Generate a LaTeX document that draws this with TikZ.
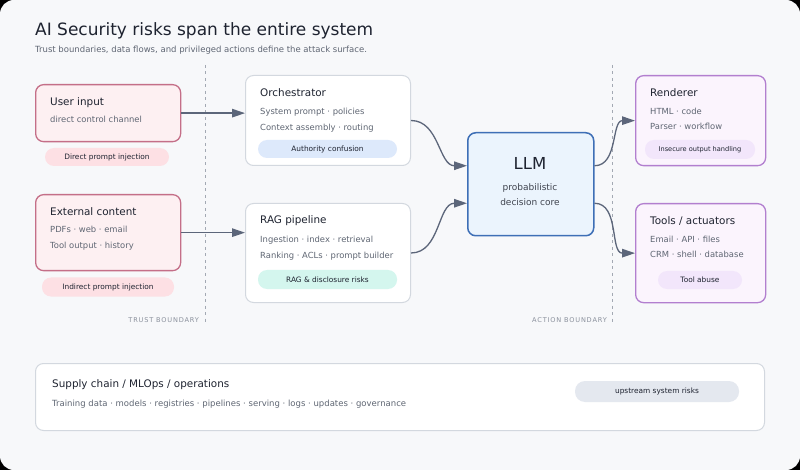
\documentclass[tikz,border=0pt]{standalone}
\usepackage{fontspec}
\setmainfont{DejaVu Sans}
\usepackage{xcolor}
\usetikzlibrary{arrows.meta}

\definecolor{bgcol}{HTML}{F7F8FA}
\definecolor{ink}{HTML}{1E2330}
\definecolor{soft}{HTML}{5F6673}
\definecolor{faint}{HTML}{8A909C}
\definecolor{dashcol}{HTML}{A3A9B3}
\definecolor{wire}{HTML}{5C667A}
\definecolor{rosefill}{HTML}{FDF0F2}
\definecolor{roseline}{HTML}{C46F88}
\definecolor{rosepill}{HTML}{FDE0E4}
\definecolor{greyline}{HTML}{D3D8DF}
\definecolor{bluepill}{HTML}{DDE9FB}
\definecolor{mintpill}{HTML}{D4F6EE}
\definecolor{llmfill}{HTML}{EBF4FD}
\definecolor{llmline}{HTML}{3E6FB6}
\definecolor{lavfill}{HTML}{FBF4FD}
\definecolor{lavline}{HTML}{B27FCF}
\definecolor{lavpill}{HTML}{F2E6FB}
\definecolor{slatepill}{HTML}{E4E8EF}

\begin{document}
\begin{tikzpicture}[x=1pt, y=-1pt,
  box/.style={rounded corners=8pt, anchor=north west, inner sep=0pt},
  inbox/.style={box, draw=roseline, fill=rosefill, line width=1.3pt},
  midbox/.style={box, draw=greyline, fill=white, line width=1pt},
  outbox/.style={box, draw=lavline, fill=lavfill, line width=1.3pt},
  pill/.style={rounded corners=9pt, inner sep=0pt, text=ink, font=\fontsize{7.4}{9}\selectfont},
  head/.style={anchor=base west, inner sep=0pt, text=ink, font=\fontsize{10.4}{12}\selectfont},
  line/.style={anchor=base west, inner sep=0pt, text=soft, font=\fontsize{8.4}{10}\selectfont},
  lbl/.style={anchor=base east, inner sep=0pt, text=faint, font=\fontsize{6.6}{8}\selectfont\addfontfeature{LetterSpace=12}},
  bound/.style={draw=dashcol, line width=0.9pt, dash pattern=on 3pt off 3.5pt},
  arr/.style={draw=wire, line width=1.3pt, -{Triangle[length=13pt,width=8.5pt]}}
]
\useasboundingbox (0,0) rectangle (800,470);
\fill[black] (0,0) rectangle (800,470);
\fill[bgcol, rounded corners=14pt] (0,0) rectangle (800,470);

\node[anchor=base west, inner sep=0pt, text=ink, font=\fontsize{17}{20}\selectfont] (title) at (35,36) {AI Security risks span the entire system};
\node[anchor=base west, inner sep=0pt, text=soft, font=\fontsize{8.5}{10}\selectfont] (subtitle) at (35,53) {Trust boundaries, data flows, and privileged actions define the attack surface.};

% boundaries
\coordinate (tb-top) at (205,65);
\coordinate (tb-bot) at (205,325);
\coordinate (ab-top) at (612,65);
\coordinate (ab-bot) at (612,325);
\draw[bound] (tb-top) -- (tb-bot);
\draw[bound] (ab-top) -- (ab-bot);
\node[lbl] (tb-l) at (199,322) {TRUST BOUNDARY};
\node[lbl] (ab-l) at (607,322) {ACTION BOUNDARY};

% inputs
\node[inbox, minimum width=145pt, minimum height=57pt] (user) at (35,84) {};
\node[head] (user-h) at (50,106) {User input};
\node[line] (user-1) at (50,123) {direct control channel};
\node[pill, fill=rosepill, minimum width=124pt, minimum height=18pt] (user-p) at (107,157) {Direct prompt injection};

\node[inbox, minimum width=145pt, minimum height=76pt] (ext) at (35,194) {};
\node[head] (ext-h) at (50,216) {External content};
\node[line] (ext-1) at (50,233) {PDFs · web · email};
\node[line] (ext-2) at (50,248.5) {Tool output · history};
\node[pill, fill=rosepill, minimum width=132pt, minimum height=19pt] (ext-p) at (108,287) {Indirect prompt injection};

% middle
\node[midbox, minimum width=165pt, minimum height=90pt] (orch) at (245,75) {};
\node[head] (orch-h) at (260,97) {Orchestrator};
\node[line] (orch-1) at (260,115) {System prompt · policies};
\node[line] (orch-2) at (260,131) {Context assembly · routing};
\node[pill, fill=bluepill, minimum width=139pt, minimum height=18pt] (orch-p) at (327.5,149) {Authority confusion};

\node[midbox, minimum width=165pt, minimum height=99pt] (rag) at (245,203) {};
\node[head] (rag-h) at (260,224) {RAG pipeline};
\node[line] (rag-1) at (260,242.5) {Ingestion · index · retrieval};
\node[line] (rag-2) at (260,258.5) {Ranking · ACLs · prompt builder};
\node[pill, fill=mintpill, minimum width=139pt, minimum height=19pt] (rag-p) at (327.5,279.5) {RAG \& disclosure risks};

% core
\node[box, draw=llmline, fill=llmfill, line width=1.5pt, minimum width=126pt, minimum height=103pt] (llm) at (467,132) {};
\node[anchor=base, inner sep=0pt, text=ink, font=\fontsize{16.5}{20}\selectfont] (llm-h) at (530,170) {LLM};
\node[anchor=base, inner sep=0pt, text=ink!85, font=\fontsize{9}{11}\selectfont] (llm-1) at (530,191) {probabilistic};
\node[anchor=base, inner sep=0pt, text=ink!85, font=\fontsize{9}{11}\selectfont] (llm-2) at (530,206) {decision core};

% outputs
\node[outbox, minimum width=130pt, minimum height=90pt] (rend) at (635,75) {};
\node[head] (rend-h) at (650,97) {Renderer};
\node[line] (rend-1) at (650,115) {HTML · code};
\node[line] (rend-2) at (650,130) {Parser · workflow};
\node[pill, fill=lavpill, minimum width=110pt, minimum height=19pt, font=\fontsize{6.6}{8}\selectfont] (rend-p) at (700,149.5) {Insecure output handling};

\node[outbox, minimum width=130pt, minimum height=99pt] (tools) at (635,203) {};
\node[head] (tools-h) at (650,225) {Tools / actuators};
\node[line] (tools-1) at (650,242.5) {Email · API · files};
\node[line] (tools-2) at (650,257.5) {CRM · shell · database};
\node[pill, fill=lavpill, minimum width=84pt, minimum height=18pt] (tools-p) at (700,280) {Tool abuse};

% supply chain
\node[midbox, minimum width=729pt, minimum height=67pt] (supply) at (35,363) {};
\node[head] (supply-h) at (52,387) {Supply chain / MLOps / operations};
\node[line, font=\fontsize{8.5}{10}\selectfont] (supply-1) at (52,406) {Training data · models · registries · pipelines · serving · logs · updates · governance};
\node[pill, fill=slatepill, minimum width=164pt, minimum height=21pt, rounded corners=10pt] (supply-p) at (657,391.5) {upstream system risks};

\draw[arr] (user.east) -- (orch.west |- user.east);
\draw[arr] (ext.east) -- (rag.west |- ext.east);
\draw[arr] (orch.east) to[out=0, in=180] ([yshift=18.5pt]llm.west);
\draw[arr] (rag.east) to[out=0, in=180] ([yshift=-19pt]llm.west);
\draw[arr] ([yshift=18.5pt]llm.east) to[out=0, in=180] (rend.west);
\draw[arr] ([yshift=-19pt]llm.east) to[out=0, in=180] (tools.west);
\end{tikzpicture}
\end{document}
